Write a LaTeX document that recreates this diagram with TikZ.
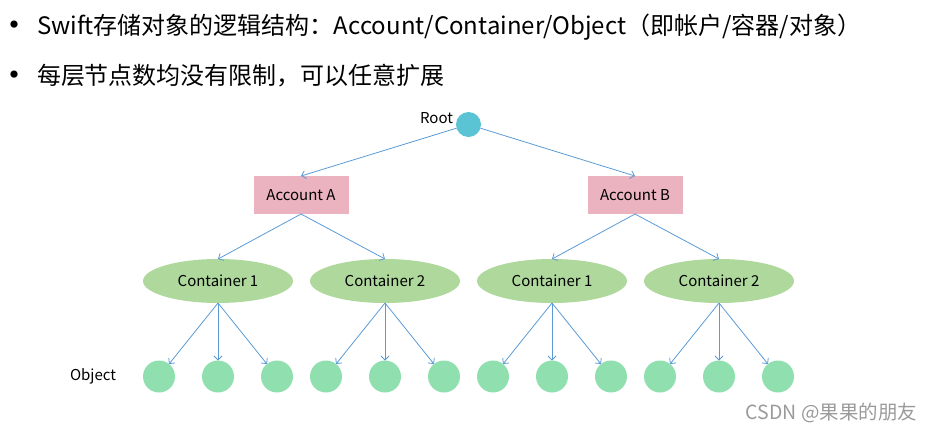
\documentclass[tikz,border=0pt]{standalone}
\usepackage{fontspec}
\setmainfont{Noto Sans CJK SC}
\usetikzlibrary{arrows.meta,shapes.geometric}
\definecolor{rootc}{HTML}{5AC4D4}
\definecolor{accc}{HTML}{EBB2BF}
\definecolor{contc}{HTML}{AED89C}
\definecolor{objc}{HTML}{90DFAF}
\definecolor{linec}{HTML}{5B9BD5}
\definecolor{wmc}{HTML}{9A9A9A}
\newcommand{\mybul}{\makebox[14pt][c]{\raisebox{-3pt}{\fontsize{34}{34}\selectfont •}}\hspace{15pt}}
\begin{document}
\begin{tikzpicture}[x=1pt,y=-1pt,
  every node/.style={inner sep=0pt,outer sep=0pt},
  rootnode/.style={circle,fill=rootc,minimum size=25pt},
  accnode/.style={rectangle,fill=accc,minimum width=95pt,minimum height=38pt,font=\fontsize{15}{18}\selectfont},
  contnode/.style={ellipse,fill=contc,minimum width=150pt,minimum height=44pt,font=\fontsize{15}{18}\selectfont},
  objnode/.style={circle,fill=objc,minimum size=32pt},
  lbl/.style={font=\fontsize{15}{18}\selectfont},
  bullettext/.style={font=\fontsize{24}{28}\selectfont,anchor=west},
  conn/.style={draw=linec,line width=0.8pt,-{Straight Barb[length=4pt,width=8pt]}}
]
\useasboundingbox (0,0) rectangle (932,432);
% bullets
\node[bullettext] (b1) at (8,27) {\mybul Swift存储对象的逻辑结构：Account/Container/Object（即帐户/容器/对象）};
\node[bullettext] (b2) at (8,76) {\mybul 每层节点数均没有限制，可以任意扩展};
% tree
\node[rootnode] (root) at (468.5,124.5) {};
\node[lbl,anchor=east] (rootlbl) at (453,118) {Root};
\node[accnode] (accA) at (301,195) {Account A};
\node[accnode] (accB) at (635,195) {Account B};
\node[contnode] (cA1) at (218,281) {Container 1};
\node[contnode] (cA2) at (385,281) {Container 2};
\node[contnode] (cB1) at (552,281) {Container 1};
\node[contnode] (cB2) at (719,281) {Container 2};
\node[lbl] (objlbl) at (93,376) {Object};
\foreach \i/\x in {1/159,2/218,3/277,4/326,5/385,6/444,7/493,8/552,9/611,10/660,11/719,12/778}{
  \node[objnode] (o\i) at (\x,376.5) {};
}
\draw[conn] (root) -- (accA.north);
\draw[conn] (root) -- (accB.north);
\draw[conn] (accA.south) -- (cA1.north);
\draw[conn] (accA.south) -- (cA2.north);
\draw[conn] (accB.south) -- (cB1.north);
\draw[conn] (accB.south) -- (cB2.north);
\draw[conn] (cA1.south) -- (o1);
\draw[conn] (cA1.south) -- (o2);
\draw[conn] (cA1.south) -- (o3);
\draw[conn] (cA2.south) -- (o4);
\draw[conn] (cA2.south) -- (o5);
\draw[conn] (cA2.south) -- (o6);
\draw[conn] (cB1.south) -- (o7);
\draw[conn] (cB1.south) -- (o8);
\draw[conn] (cB1.south) -- (o9);
\draw[conn] (cB2.south) -- (o10);
\draw[conn] (cB2.south) -- (o11);
\draw[conn] (cB2.south) -- (o12);
\node[font=\fontsize{19.5}{22}\selectfont,text=wmc,anchor=east] (wm) at (917,413) {CSDN @果果的朋友};
\end{tikzpicture}
\end{document}
